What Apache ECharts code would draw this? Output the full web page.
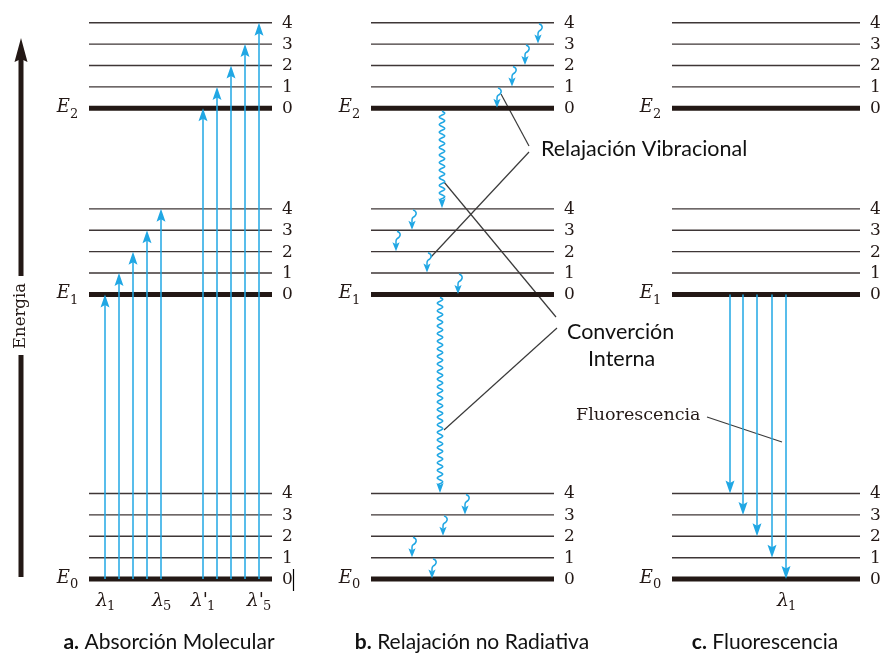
<!DOCTYPE html>
<html><head><meta charset="utf-8">
<script src="https://cdn.jsdelivr.net/npm/echarts@6/dist/echarts.min.js"></script>
<style>html,body{margin:0;padding:0;background:#fff}#c{width:885px;height:654px}</style>
</head><body><div id="c"></div>
<script>
// ---------------- data ----------------
const stateNames = ['E0', 'E1', 'E2'];
const stateEnergy = [0, 13.3, 22.0];          // electronic levels, in units of vibrational spacing
const vibQuanta = [0, 1, 2, 3, 4];
const panelTitles = [['a.', ' Absorción Molecular'], ['b.', ' Relajación no Radiativa'], ['c.', ' Fluorescencia']];
// transitions: [fromState, fromVib, toState, toVib]
const absorption = [[0,0,1,0],[0,0,1,1],[0,0,1,2],[0,0,1,3],[0,0,1,4],[0,0,2,0],[0,0,2,1],[0,0,2,2],[0,0,2,3],[0,0,2,4]];
const absorptionLabels = ['λ1', '', '', '', 'λ5', "λ'1", '', '', '', "λ'5"];
const vibRelax = [[2,4,2,3],[2,3,2,2],[2,2,2,1],[2,1,2,0],[1,4,1,3],[1,3,1,2],[1,2,1,1],[1,1,1,0],[0,4,0,3],[0,3,0,2],[0,2,0,1],[0,1,0,0]];
const internalConv = [[2,0,1,4],[1,0,0,4]];
const fluorescence = [[1,0,0,4],[1,0,0,3],[1,0,0,2],[1,0,0,1],[1,0,0,0]];
const fluorescenceLabels = ['', '', '', '', 'λ1'];
const annotationTexts = ['Relajación Vibracional', 'Converción', 'Interna', 'Fluorescencia'];
const axisTitle = 'Energia';

// ---------------- layout (positions / styles) ----------------
const L = {
  panelX: [[89, 272], [371, 554], [672, 860]],
  absX: [105, 119, 133, 147, 161, 203, 217, 231, 245, 259],
  relaxX: [538, 525, 512, 497, 412, 396, 427, 458, 465, 443, 412, 432],
  icX: [442, 440],
  fluoX: [730, 743, 757, 772, 786]
};
const ARROW = '#20a7e4';
const INK = '#231815';
const SERIF = '"DejaVu Serif", "Liberation Serif", serif';
const SANS = 'Lato, "Open Sans", sans-serif';

function en(s, v) { return stateEnergy[s] + v; }

const levelData = [];
L.panelX.forEach(px => {
  stateEnergy.forEach((se, s) => {
    vibQuanta.forEach(v => levelData.push([px[0], px[1], se + v, v, s]));
  });
});
const absData = absorption.map((t, i) => [L.absX[i], en(t[0], t[1]), en(t[2], t[3]), i]);
const fluoData = fluorescence.map((t, i) => [L.fluoX[i], en(t[0], t[1]), en(t[2], t[3]), i]);
const wavyData = vibRelax.map((t, i) => [L.relaxX[i], en(t[0], t[1]), en(t[2], t[3]), 0])
  .concat(internalConv.map((t, i) => [L.icX[i], en(t[0], t[1]), en(t[2], t[3]), 1]));

function renderLevel(params, api) {
  const x1 = api.value(0), x2 = api.value(1), e = api.value(2), v = api.value(3), s = api.value(4);
  const p1 = api.coord([x1, e]), p2 = api.coord([x2, e]);
  const thick = v === 0;
  const ch = [{
    type: 'line', shape: { x1: p1[0], y1: p1[1], x2: p2[0], y2: p2[1] },
    style: { stroke: thick ? INK : '#3e3636', lineWidth: thick ? 5 : 1.4 }
  }, {
    type: 'text', style: { text: String(v), x: p2[0] + 10, y: p1[1] + 0.5, align: 'left', verticalAlign: 'middle', font: '17px ' + SERIF, fill: INK }
  }];
  if (thick) {
    const name = stateNames[s];
    ch.push({ type: 'text', style: { text: name[0], x: p1[0] - 19, y: p1[1] - 1, align: 'right', verticalAlign: 'middle', font: 'italic 18px ' + SERIF, fill: INK } });
    ch.push({ type: 'text', style: { text: name.slice(1), x: p1[0] - 19, y: p1[1] + 6, align: 'left', verticalAlign: 'middle', font: '13px ' + SERIF, fill: INK } });
  }
  return { type: 'group', children: ch };
}

function lambdaLabel(label, x, y) {
  if (!label) return [];
  const base = label.slice(0, -1), sub = label.slice(-1);
  const off = base.length > 1 ? 5 : 3;
  return [
    { type: 'text', style: { text: base, x: x + off, y: y, align: 'right', verticalAlign: 'middle', font: 'italic 19px ' + SERIF, fill: INK } },
    { type: 'text', style: { text: sub, x: x + off - 1, y: y + 6, align: 'left', verticalAlign: 'middle', font: '13px ' + SERIF, fill: INK } }
  ];
}

function makeArrowRenderer(labels) {
  return function (params, api) {
    const x = api.value(0);
    const a = api.coord([x, api.value(1)]), b = api.coord([x, api.value(2)]);
    const dir = b[1] < a[1] ? -1 : 1;
    const hl = 13, hw = 4.5;
    const base = b[1] - dir * hl;
    const ch = [
      { type: 'line', shape: { x1: a[0], y1: a[1], x2: b[0], y2: base + dir * 3 }, style: { stroke: ARROW, lineWidth: 1.5 } },
      { type: 'polygon', shape: { points: [[b[0], b[1]], [b[0] + hw, base], [b[0], base + dir * 2.5], [b[0] - hw, base]] }, style: { fill: ARROW } }
    ];
    const lab = labels[params.dataIndex];
    const e0 = api.coord([x, stateEnergy[0]]);
    return { type: 'group', children: ch.concat(lambdaLabel(lab, x, e0[1] + 22)) };
  };
}

function renderWavy(params, api) {
  const x = api.value(0), kind = api.value(3);
  const a = api.coord([x, api.value(1)]), b = api.coord([x, api.value(2)]);
  const tipY = b[1] - 0.5;
  const hl = kind ? 10 : 9, hw = 3.6;
  const baseY = tipY - hl;
  const ch = [];
  if (kind === 1) {
    const pts = [];
    const y0 = a[1] + 3, amp = 2.7, period = 7.6;
    for (let y = y0; y <= baseY + 2; y += 0.5) pts.push([x + amp * Math.sin((y - y0) / period * 2 * Math.PI), y]);
    ch.push({ type: 'polyline', shape: { points: pts }, style: { stroke: ARROW, lineWidth: 1.5, fill: null } });
  } else {
    const t = a[1] + 1;
    const d = 'M' + (x + 1) + ' ' + t + ' C' + (x + 5.5) + ' ' + (t + 1.5) + ' ' + (x + 5) + ' ' + (t + 5.5) + ' ' + (x + 1) + ' ' + (t + 7.5) +
      ' Q' + x + ' ' + (t + 8.5) + ' ' + x + ' ' + (t + 10) + ' L' + x + ' ' + (baseY + 2);
    ch.push({ type: 'path', shape: { pathData: d }, style: { stroke: ARROW, lineWidth: 1.5, fill: null } });
  }
  ch.push({ type: 'polygon', shape: { points: [[x, tipY], [x + hw, baseY], [x, baseY + 2], [x - hw, baseY]] }, style: { fill: ARROW } });
  return { type: 'group', children: ch };
}

const chart = echarts.init(document.getElementById('c'), null, { renderer: 'canvas' });
const leader = { stroke: '#3a3a3a', lineWidth: 1.2 };
const titleRich = { b: { font: 'bold 21px ' + SANS, fill: '#111' }, n: { font: '21px ' + SANS, fill: '#111' } };
const titleXs = [169, 472, 765];
chart.setOption({
  animation: false,
  backgroundColor: '#fff',
  grid: { left: 0, right: 0, top: 0, bottom: 0, containLabel: false },
  xAxis: { type: 'value', min: 0, max: 885, show: false },
  yAxis: { type: 'value', min: -3.5, max: 27.06, show: false },
  series: [
    { type: 'custom', renderItem: renderLevel, data: levelData, clip: false, silent: true },
    { type: 'custom', renderItem: makeArrowRenderer(absorptionLabels), data: absData, clip: false, silent: true, z: 3 },
    { type: 'custom', renderItem: makeArrowRenderer(fluorescenceLabels), data: fluoData, clip: false, silent: true, z: 3 },
    { type: 'custom', renderItem: renderWavy, data: wavyData, clip: false, silent: true, z: 3 }
  ],
  graphic: [
    { type: 'line', shape: { x1: 21, y1: 577, x2: 21, y2: 355 }, style: { stroke: INK, lineWidth: 5 } },
    { type: 'line', shape: { x1: 21, y1: 276, x2: 21, y2: 56 }, style: { stroke: INK, lineWidth: 5 } },
    { type: 'polygon', shape: { points: [[21, 38], [27.5, 62], [21, 59], [14.5, 62]] }, style: { fill: INK } },
    { type: 'text', x: 21, y: 316, rotation: Math.PI / 2, style: { text: axisTitle, align: 'center', verticalAlign: 'middle', font: '16.5px ' + SERIF, fill: INK } },
  ].concat(panelTitles.map((t, i) => ({
    type: 'text', x: titleXs[i], y: 642,
    style: { text: '{b|' + t[0] + '}{n|' + t[1] + '}', align: 'center', verticalAlign: 'middle', rich: titleRich }
  }))).concat([
    { type: 'line', shape: { x1: 501, y1: 94, x2: 529, y2: 146 }, style: leader },
    { type: 'line', shape: { x1: 529, y1: 152, x2: 431, y2: 257 }, style: leader },
    { type: 'line', shape: { x1: 444, y1: 182, x2: 556, y2: 317 }, style: leader },
    { type: 'line', shape: { x1: 557, y1: 328, x2: 444, y2: 430 }, style: leader },
    { type: 'line', shape: { x1: 707, y1: 417, x2: 782, y2: 442 }, style: leader },
    { type: 'text', x: 541, y: 149, style: { text: annotationTexts[0], align: 'left', verticalAlign: 'middle', font: '21.5px ' + SANS, fill: '#111' } },
    { type: 'text', x: 567, y: 332, style: { text: annotationTexts[1], align: 'left', verticalAlign: 'middle', font: '21.5px ' + SANS, fill: '#111' } },
    { type: 'text', x: 588, y: 359, style: { text: annotationTexts[2], align: 'left', verticalAlign: 'middle', font: '21.5px ' + SANS, fill: '#111' } },
    { type: 'text', x: 576, y: 415, style: { text: annotationTexts[3], align: 'left', verticalAlign: 'middle', font: '17.5px ' + SERIF, fill: INK } },
    { type: 'line', shape: { x1: 293.5, y1: 569, x2: 293.5, y2: 591 }, style: { stroke: '#000', lineWidth: 1.2 } }
  ])
});
</script>
</body></html>
